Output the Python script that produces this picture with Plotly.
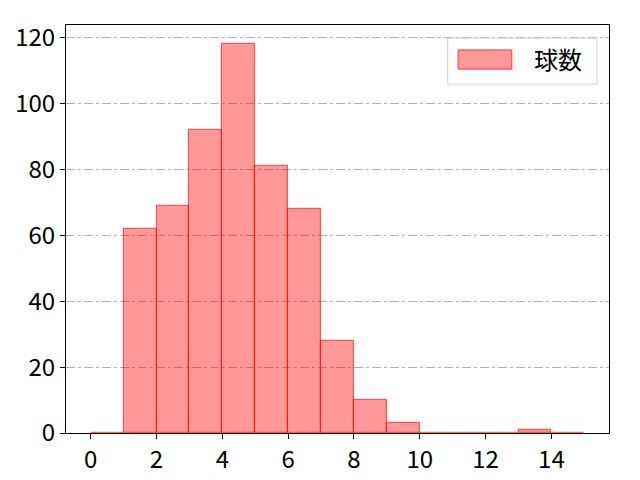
import plotly.graph_objects as go

bin_left = [0, 1, 2, 3, 4, 5, 6, 7, 8, 9, 10, 11, 12, 13, 14]
counts = [0, 62, 69, 92, 118, 81, 68, 28, 10, 3, 0, 0, 0, 1, 0]
x_ticks = [0, 2, 4, 6, 8, 10, 12, 14]
y_ticks = [0, 20, 40, 60, 80, 100, 120]
series_name = '球数'

centers = [b + 0.5 for b in bin_left]

fig = go.Figure()
fig.add_trace(go.Bar(
    x=centers, y=counts, width=1, name=series_name,
    marker=dict(color='rgba(255,0,0,0.4)', line=dict(color='rgba(255,0,0,0.6)', width=1.2)),
    showlegend=False,
))

fig.update_xaxes(
    range=[-0.75, 15.75], tickvals=x_ticks, ticks='outside', ticklen=5, tickcolor='black',
    showline=True, linecolor='black', linewidth=1, mirror=True, showgrid=False, zeroline=False,
    tickfont=dict(size=24, color='black'), automargin=False,
)
fig.update_yaxes(
    range=[0, 123.9], tickvals=y_ticks, ticks='outside', ticklen=5, tickcolor='black',
    showline=True, linecolor='black', linewidth=1, mirror=True,
    showgrid=True, gridcolor='#b0b0b0', griddash='dashdot', gridwidth=1, zeroline=False,
    tickfont=dict(size=24, color='black'), automargin=False,
)

# legend box drawn like matplotlib's
fig.add_shape(type='rect', xref='paper', yref='paper', x0=0.703, x1=0.978, y0=0.855, y1=0.968,
              line=dict(color='#d0d0d0', width=1), fillcolor='rgba(255,255,255,0.8)')
fig.add_shape(type='rect', xref='paper', yref='paper', x0=0.722, x1=0.821, y0=0.892, y1=0.939,
              line=dict(color='rgba(255,0,0,0.6)', width=1.2), fillcolor='rgba(255,0,0,0.4)')
fig.add_annotation(text=series_name, xref='paper', yref='paper', x=0.858, y=0.917,
                   xanchor='left', yanchor='middle', showarrow=False, font=dict(size=24, color='black'))

fig.update_layout(
    width=640, height=480, margin=dict(l=58, r=39, t=17, b=55),
    plot_bgcolor='white', paper_bgcolor='white', bargap=0,
    font=dict(family='Noto Sans CJK JP', color='black'),
)
fig.write_html("out.html")
